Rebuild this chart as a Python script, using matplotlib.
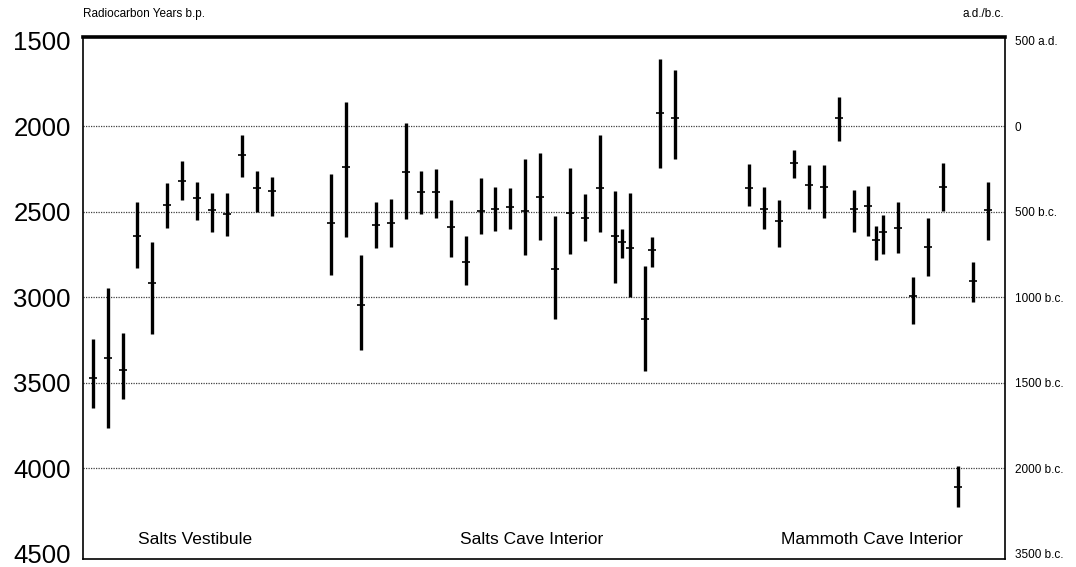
import matplotlib
matplotlib.use('Agg')
import matplotlib.pyplot as plt
import matplotlib.transforms as mtransforms

plt.rcParams['font.family'] = ['Liberation Sans', 'DejaVu Sans']

# sample slot along the x axis, then radiocarbon date (centre) and range (young, old)
slots_vest = [0, 1, 2, 3, 4, 5, 6, 7, 8, 9, 10, 11, 12]
mid_vest = [3475, 3355, 3425, 2640, 2920, 2460, 2320, 2420, 2490, 2515, 2170, 2365, 2380]
lo_vest = [3245, 2945, 3210, 2445, 2675, 2335, 2205, 2325, 2390, 2390, 2050, 2260, 2300]
hi_vest = [3650, 3765, 3595, 2830, 3215, 2595, 2430, 2550, 2620, 2640, 2295, 2500, 2525]

slots_salts = [16, 17, 18, 19, 20, 21, 22, 23, 24, 25, 26, 27, 28, 29, 30,
               31, 32, 33, 34, 35, 35.5, 36, 37, 37.5, 38, 39]
mid_salts = [2565, 2240, 3045, 2580, 2565, 2270, 2385, 2385, 2590, 2795, 2495, 2485, 2475,
             2495, 2415, 2835, 2510, 2540, 2360, 2640, 2675, 2710, 3130, 2725, 1925, 1955]
lo_salts = [2280, 1860, 2755, 2445, 2425, 1985, 2265, 2250, 2435, 2640, 2305, 2355, 2365,
            2195, 2155, 2525, 2245, 2395, 2050, 2380, 2600, 2390, 2820, 2650, 1610, 1675]
hi_salts = [2870, 2650, 3310, 2715, 2705, 2545, 2515, 2535, 2765, 2930, 2630, 2615, 2600,
            2755, 2665, 3125, 2750, 2670, 2620, 2920, 2770, 3000, 3430, 2825, 2245, 2195]

slots_mam = [44, 45, 46, 47, 48, 49, 50, 51, 52, 52.5, 53, 54, 55, 56, 57, 58, 59, 60]
mid_mam = [2360, 2485, 2555, 2215, 2345, 2355, 1955, 2485, 2465, 2665, 2620, 2595,
           2995, 2705, 2355, 4110, 2905, 2490]
lo_mam = [2220, 2355, 2430, 2140, 2230, 2230, 1830, 2375, 2350, 2585, 2520, 2445,
          2880, 2535, 2215, 3985, 2795, 2330]
hi_mam = [2470, 2600, 2705, 2305, 2485, 2535, 2085, 2620, 2645, 2780, 2750, 2740,
          3155, 2875, 2495, 4225, 3030, 2665]

group_names = ['Salts Vestibule', 'Salts Cave Interior', 'Mammoth Cave Interior']
group_label_x = [6.85, 29.4, 52.2]

bp_ticks = [1500, 2000, 2500, 3000, 3500, 4000, 4500]
cal_labels = ['500 a.d.', '0', '500 b.c.', '1000 b.c.', '1500 b.c.', '2000 b.c.', '3500 b.c.']

fig = plt.figure(figsize=(10.76, 5.67), dpi=100)
ax = fig.add_axes([0.0774, 0.0141, 0.8566, 0.9206])

for s, m, lo, hi in [(slots_vest, mid_vest, lo_vest, hi_vest),
                     (slots_salts, mid_salts, lo_salts, hi_salts),
                     (slots_mam, mid_mam, lo_mam, hi_mam)]:
    ax.vlines(s, lo, hi, colors='black', linewidth=2.4)
    ax.plot(s, m, linestyle='none', marker='_', markersize=6,
            markeredgewidth=1.2, color='black')

for v in bp_ticks[1:-1]:
    ax.axhline(v, color='0.25', linewidth=0.9, linestyle=(0, (1, 1)), zorder=0)

ax.set_xlim(-0.63, 61.15)
ax.set_ylim(4530, 1480)
ax.set_xticks([])
ax.set_yticks(bp_ticks)
ax.set_yticklabels([str(v) for v in bp_ticks], fontsize=18.5)
ax.tick_params(axis='y', length=0, pad=9)

for side in ['left', 'right', 'bottom']:
    ax.spines[side].set_linewidth(1.2)
ax.spines['top'].set_linewidth(2.6)

ax2 = ax.twinx()
ax2.set_ylim(ax.get_ylim())
ax2.set_yticks(bp_ticks)
ax2.set_yticklabels(cal_labels, fontsize=8.5)
ax2.tick_params(axis='y', length=0, pad=7)
for side in ['left', 'right', 'bottom', 'top']:
    ax2.spines[side].set_visible(False)

trans = mtransforms.blended_transform_factory(ax.transData, ax.transAxes)
for name, gx in zip(group_names, group_label_x):
    ax.text(gx, 0.038, name, transform=trans, ha='center', va='center', fontsize=12.5)

fig.text(83 / 1076, 1 - 14 / 567, 'Radiocarbon Years b.p.', ha='left', va='center', fontsize=8.5)
fig.text(1004 / 1076, 1 - 14 / 567, 'a.d./b.c.', ha='right', va='center', fontsize=8.5)

fig.savefig('out.png', dpi=100)
